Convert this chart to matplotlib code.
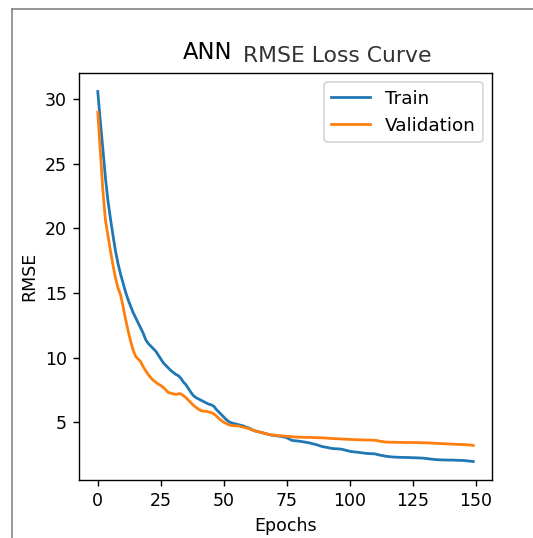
import matplotlib
matplotlib.use("Agg")
import matplotlib.pyplot as plt
from matplotlib.lines import Line2D

epochs = list(range(150))

train_rmse = [
    30.6, 28.3, 26.2, 24.0, 22.2, 20.8, 19.5, 18.3, 17.3, 16.5,
    15.8, 15.1, 14.5, 14.0, 13.5, 13.1, 12.7, 12.3, 11.9, 11.4,
    11.1, 10.9, 10.7, 10.5, 10.2, 9.9, 9.6, 9.4, 9.2, 9.0,
    8.85, 8.7, 8.6, 8.4, 8.1, 7.9, 7.6, 7.3, 7.05, 6.9,
    6.8, 6.7, 6.6, 6.5, 6.4, 6.35, 6.25, 6.0, 5.8, 5.6,
    5.4, 5.2, 5.05, 4.95, 4.9, 4.85, 4.8, 4.75, 4.7, 4.6,
    4.55, 4.45, 4.35, 4.3, 4.25, 4.2, 4.15, 4.1, 4.05, 4.0,
    3.98, 3.95, 3.92, 3.9, 3.85, 3.8, 3.7, 3.6, 3.57, 3.55,
    3.53, 3.5, 3.47, 3.43, 3.4, 3.35, 3.3, 3.25, 3.18, 3.12,
    3.08, 3.05, 3.0, 2.97, 2.95, 2.94, 2.93, 2.9, 2.85, 2.8,
    2.75, 2.72, 2.7, 2.68, 2.65, 2.63, 2.6, 2.58, 2.57, 2.56,
    2.55, 2.5, 2.45, 2.42, 2.38, 2.35, 2.33, 2.31, 2.3, 2.29,
    2.28, 2.28, 2.27, 2.27, 2.26, 2.25, 2.25, 2.24, 2.23, 2.22,
    2.2, 2.18, 2.15, 2.13, 2.11, 2.1, 2.09, 2.08, 2.08, 2.07,
    2.07, 2.07, 2.06, 2.05, 2.05, 2.04, 2.02, 2.0, 1.98, 1.96,
]

val_rmse = [
    29.0, 26.0, 23.0, 20.7, 19.5, 18.3, 17.2, 16.2, 15.4, 14.9,
    14.0, 13.0, 12.1, 11.3, 10.6, 10.1, 9.9, 9.7, 9.3, 9.0,
    8.7, 8.45, 8.25, 8.1, 7.95, 7.85, 7.7, 7.5, 7.3, 7.25,
    7.2, 7.15, 7.2, 7.2, 7.05, 6.9, 6.7, 6.5, 6.3, 6.15,
    6.0, 5.9, 5.85, 5.85, 5.8, 5.75, 5.65, 5.5, 5.3, 5.15,
    5.0, 4.9, 4.8, 4.75, 4.73, 4.72, 4.7, 4.65, 4.6, 4.55,
    4.5, 4.42, 4.35, 4.3, 4.25, 4.2, 4.15, 4.1, 4.05, 4.02,
    4.0, 3.98, 3.96, 3.95, 3.93, 3.91, 3.9, 3.88, 3.86, 3.85,
    3.84, 3.84, 3.83, 3.83, 3.83, 3.82, 3.81, 3.8, 3.8, 3.79,
    3.78, 3.77, 3.75, 3.74, 3.73, 3.72, 3.71, 3.7, 3.69, 3.68,
    3.67, 3.66, 3.65, 3.64, 3.64, 3.63, 3.63, 3.62, 3.62, 3.61,
    3.6, 3.57, 3.53, 3.5, 3.47, 3.46, 3.45, 3.45, 3.45, 3.44,
    3.44, 3.44, 3.43, 3.43, 3.43, 3.43, 3.42, 3.42, 3.42, 3.41,
    3.41, 3.4, 3.39, 3.38, 3.37, 3.36, 3.35, 3.34, 3.33, 3.32,
    3.31, 3.3, 3.29, 3.28, 3.28, 3.27, 3.26, 3.25, 3.23, 3.2,
]

series_labels = ["Train", "Validation"]
x_ticks = [0, 25, 50, 75, 100, 125, 150]
y_ticks = [5, 10, 15, 20, 25, 30]

W, H = 533, 538
DPI = 125
fig = plt.figure(figsize=(W / DPI, H / DPI), dpi=DPI)
ax = fig.add_axes([79 / W, 1 - 480 / H, (492 - 79) / W, (480 - 73) / H])

ax.plot(epochs, train_rmse, color="#1f77b4", label=series_labels[0], linewidth=1.6)
ax.plot(epochs, val_rmse, color="#ff7f0e", label=series_labels[1], linewidth=1.6)
ax.set_xticks(x_ticks)
ax.set_yticks(y_ticks)
ax.set_xlabel("Epochs")
ax.set_ylabel("RMSE")
ax.legend(loc="upper right", fontsize=10.6, handlelength=2.1)

# split title: larger "ANN", smaller grey remainder
fig.text(207.5 / W, 1 - 59.5 / H, "ANN", fontsize=13, color="black",
         ha="center", va="baseline")
fig.text(337 / W, 1 - 61.5 / H, "RMSE Loss Curve", fontsize=12.6,
         color="#333333", ha="center", va="baseline")

# thin grey frame lines of the screenshot
fig.add_artist(Line2D([12 / W, 12 / W], [0, 1 - 9 / H], transform=fig.transFigure,
                      color="#7f7f7f", linewidth=0.9))
fig.add_artist(Line2D([12 / W, 1], [1 - 9 / H, 1 - 9 / H], transform=fig.transFigure,
                      color="#7f7f7f", linewidth=0.9))

fig.savefig("out.png", dpi=DPI)
